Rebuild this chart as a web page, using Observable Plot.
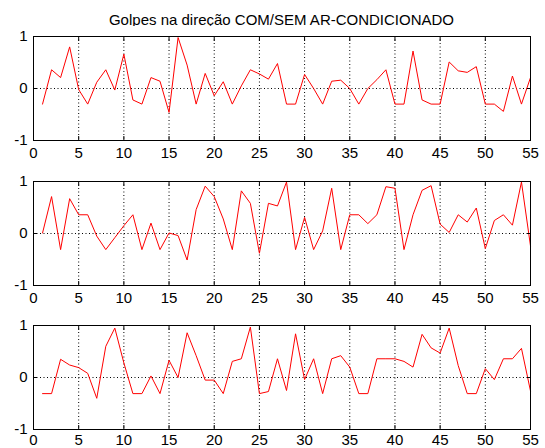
<!DOCTYPE html>
<html><head><meta charset="utf-8">
<script src="https://cdn.jsdelivr.net/npm/d3@7"></script>
<script src="https://cdn.jsdelivr.net/npm/@observablehq/plot@0.6"></script>
<style>
html,body{margin:0;padding:0;background:#fff;}
#chart{position:relative;width:545px;height:448px;overflow:hidden;background:#fff;font-family:"Liberation Sans",Arial,sans-serif;}
#title{position:absolute;left:33px;width:497px;top:12px;text-align:center;font-size:15px;line-height:15px;color:#000;white-space:nowrap;}
.panel{position:absolute;left:0;}
</style></head><body>
<div id="chart"><div id="title"></div></div>
<script>
const title = "Golpes na direção COM/SEM AR-CONDICIONADO";
const sample = [1,2,3,4,5,6,7,8,9,10,11,12,13,14,15,16,17,18,19,20,21,22,23,24,25,26,27,28,29,30,31,32,33,34,35,36,37,38,39,40,41,42,43,44,45,46,47,48,49,50,51,52,53,54,55];
const series1 = [-0.30,0.36,0.21,0.80,-0.02,-0.30,0.12,0.36,-0.03,0.66,-0.22,-0.30,0.21,0.14,-0.46,0.98,0.45,-0.30,0.29,-0.14,0.13,-0.30,0.05,0.36,0.28,0.18,0.48,-0.30,-0.30,0.27,0.00,-0.30,0.14,0.16,0.00,-0.30,0.00,0.17,0.36,-0.30,-0.30,0.72,-0.22,-0.30,-0.30,0.51,0.34,0.31,0.42,-0.30,-0.30,-0.44,0.24,-0.30,0.21];
const series2 = [0.01,0.71,-0.31,0.67,0.36,0.36,-0.05,-0.31,-0.08,0.15,0.36,-0.31,0.20,-0.31,0.01,-0.04,-0.51,0.46,0.91,0.71,0.28,-0.31,0.82,0.58,-0.38,0.58,0.53,0.99,-0.31,0.31,-0.31,0.05,0.87,-0.31,0.36,0.36,0.19,0.36,0.90,0.87,-0.31,0.36,0.83,0.92,0.18,0.02,0.36,0.22,0.49,-0.29,0.25,0.36,0.16,0.99,-0.24];
const series3 = [-0.31,-0.31,0.35,0.24,0.19,0.08,-0.40,0.60,0.95,0.28,-0.31,-0.31,0.03,-0.31,0.33,0.00,0.86,0.42,-0.05,-0.05,-0.31,0.31,0.36,0.97,-0.31,-0.27,0.36,-0.25,0.84,-0.04,0.36,-0.31,0.36,0.42,0.20,-0.31,-0.31,0.36,0.36,0.36,0.31,0.20,0.83,0.57,0.47,0.95,0.23,-0.31,-0.31,0.17,-0.04,0.36,0.36,0.56,-0.26];
const xTicks = [0,5,10,15,20,25,30,35,40,45,50,55];
const xGrid = [5,10,15,20,25,30,35,40,45,50];
const yTicks = [-1,0,1];
const yGrid = [0];
const panelTops = [36, 180.5, 325];

document.getElementById("title").textContent = title;

function panel(values, frameTop, labelPad) {
  const data = sample.map((x, i) => ({x, y: values[i]}));
  const mt = 10, fh = 104, mb = 26;
  const svg = Plot.plot({
    width: 545, height: mt + fh + mb,
    marginTop: mt, marginBottom: mb, marginLeft: 33, marginRight: 15,
    style: {fontFamily: "'Liberation Sans', Arial, sans-serif", fontSize: "15px", color: "black", background: "white", overflow: "visible"},
    x: {domain: [0, 55], label: null},
    y: {domain: [-1, 1], label: null},
    marks: [
      Plot.gridX(xGrid, {stroke: "black", strokeOpacity: 1, strokeDasharray: "1,2.5"}),
      Plot.gridY(yGrid, {stroke: "black", strokeOpacity: 1, strokeDasharray: "1,2.5"}),
      Plot.line(data, {x: "x", y: "y", stroke: "#ff0000", strokeWidth: 1}),
      Plot.frame({stroke: "black"}),
      Plot.axisX(xTicks, {anchor: "bottom", tickSize: -4, tickPadding: labelPad, tickFormat: d => String(d), label: null}),
      Plot.axisX(xTicks, {anchor: "top", tickSize: -4, text: null, label: null}),
      Plot.axisY(yTicks, {anchor: "left", tickSize: -4, tickPadding: 10, tickFormat: d => String(d), label: null}),
      Plot.axisY(yTicks, {anchor: "right", tickSize: -4, text: null, label: null})
    ]
  });
  const wrap = document.createElement("div");
  wrap.className = "panel";
  wrap.style.top = (frameTop - mt) + "px";
  wrap.appendChild(svg);
  document.getElementById("chart").appendChild(wrap);
}

panel(series1, panelTops[0], 11);
panel(series2, panelTops[1], 11);
panel(series3, panelTops[2], 9);
</script>
</body></html>
